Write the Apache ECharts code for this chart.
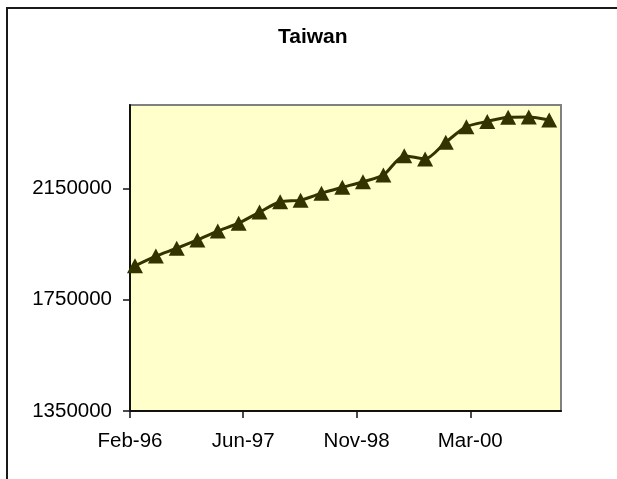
<!DOCTYPE html>
<html>
<head>
<meta charset="utf-8">
<script src="https://cdn.jsdelivr.net/npm/echarts@6/dist/echarts.min.js"></script>
<style>
  html, body { margin: 0; padding: 0; background: #ffffff; }
  #chart { width: 617px; height: 479px; }
</style>
</head>
<body>
<div id="chart"></div>
<script>
// Quarterly observations
const periods = [
  '1996-03-01', '1996-06-01', '1996-09-01', '1996-12-01',
  '1997-03-01', '1997-06-01', '1997-09-01', '1997-12-01',
  '1998-03-01', '1998-06-01', '1998-09-01', '1998-12-01',
  '1999-03-01', '1999-06-01', '1999-09-01', '1999-12-01',
  '2000-03-01', '2000-06-01', '2000-09-01', '2000-12-01',
  '2001-03-01'
];
const values = [
  1872000, 1907000, 1935000, 1965000,
  1997000, 2025000, 2065000, 2102000,
  2108000, 2133000, 2154000, 2174000,
  2198000, 2268000, 2256000, 2316000,
  2372000, 2391000, 2406000, 2407000,
  2396000
];

// Date axis: range and labelled tick dates
const xRange = ['1996-02-08', '2001-04-22'];
const xTickDates = ['1996-02-08', '1997-06-21', '1998-11-03', '2000-03-18'];
const xTickLabels = ['Feb-96', 'Jun-97', 'Nov-98', 'Mar-00'];

// Value axis: range and labelled ticks
const yRange = [1350000, 2450000];
const yTicks = [1350000, 1750000, 2150000];

const toTime = s => Date.parse(s);
const xTickValues = xTickDates.map(toTime);
const seriesData = periods.map((p, i) => [toTime(p), values[i]]);

const FONT = '"Liberation Sans", Arial, Helvetica, sans-serif';
const INK = '#333300';

const chart = echarts.init(document.getElementById('chart'), null, { renderer: 'canvas' });

chart.setOption({
  animation: false,
  backgroundColor: '#ffffff',
  textStyle: { fontFamily: FONT },
  title: {
    text: 'Taiwan',
    left: 278,
    top: 27,
    padding: 0,
    textStyle: { fontFamily: FONT, fontSize: 21, fontWeight: 'bold', color: '#000' }
  },
  graphic: [{
    type: 'rect',
    silent: true,
    shape: { x: 7, y: 8, width: 700, height: 600 },
    style: { fill: 'none', stroke: '#1a1a1a', lineWidth: 2 },
    z: 100
  }],
  grid: {
    left: 130,
    top: 105,
    width: 431,
    height: 306,
    show: true,
    backgroundColor: '#FFFFCC',
    borderColor: '#808080',
    borderWidth: 2
  },
  xAxis: {
    type: 'value',
    min: toTime(xRange[0]),
    max: toTime(xRange[1]),
    axisLine: { show: true, onZero: false, lineStyle: { color: '#111', width: 2 } },
    axisTick: { show: true, inside: false, length: 7, customValues: xTickValues, lineStyle: { color: '#111', width: 1.5 } },
    axisLabel: {
      customValues: xTickValues,
      margin: 20,
      fontFamily: FONT,
      fontSize: 20.5,
      color: '#000',
      formatter: v => {
        const i = xTickValues.indexOf(v);
        return i >= 0 ? xTickLabels[i] : '';
      }
    },
    splitLine: { show: false }
  },
  yAxis: {
    type: 'value',
    min: yRange[0],
    max: yRange[1],
    axisLine: { show: true, lineStyle: { color: '#111', width: 2 } },
    axisTick: { show: true, inside: false, length: 7, customValues: yTicks, lineStyle: { color: '#111', width: 1.5 } },
    axisLabel: {
      customValues: yTicks,
      margin: 18,
      fontFamily: FONT,
      fontSize: 20.5,
      color: '#000',
      formatter: v => String(v)
    },
    splitLine: { show: false }
  },
  series: [{
    type: 'line',
    data: seriesData,
    smooth: 0.25,
    symbol: 'triangle',
    symbolSize: [16, 15],
    showAllSymbol: true,
    itemStyle: { color: INK, borderColor: INK, borderWidth: 0 },
    lineStyle: { color: INK, width: 3 },
    emphasis: { disabled: true }
  }]
});
</script>
</body>
</html>
